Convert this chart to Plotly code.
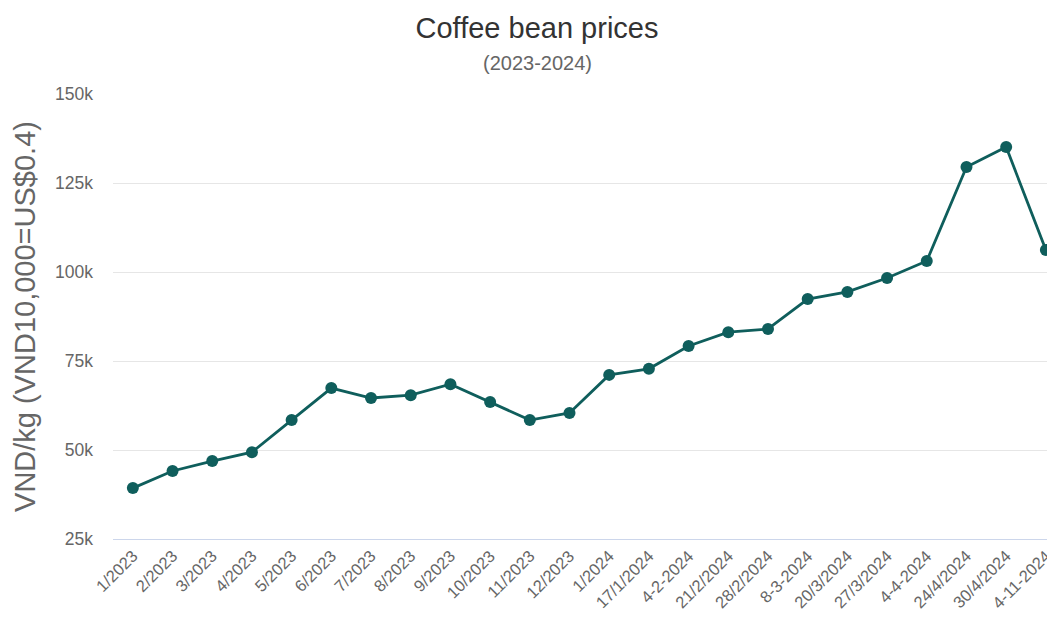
import plotly.graph_objects as go

categories = ["1/2023", "2/2023", "3/2023", "4/2023", "5/2023", "6/2023", "7/2023", "8/2023",
              "9/2023", "10/2023", "11/2023", "12/2023", "1/2024", "17/1/2024", "4-2-2024",
              "21/2/2024", "28/2/2024", "8-3-2024", "20/3/2024", "27/3/2024", "4-4-2024",
              "24/4/2024", "30/4/2024", "4-11-2024"]
prices = [39300, 44100, 46900, 49400, 58400, 67400, 64600, 65400, 68500, 63500, 58400, 60400,
          71100, 72800, 79200, 83100, 84000, 92400, 94400, 98300, 103100, 129500, 135100, 106200]
y_ticks = [25000, 50000, 75000, 100000, 125000, 150000]
y_tick_labels = ["25k", "50k", "75k", "100k", "125k", "150k"]

FONT = "Liberation Sans, Arial, sans-serif"
W, H = 1047, 611
ML, MT, MB, MR = 105, 86, 80, 0
PH = H - MT - MB
CX = (537 - 8) / W

fig = go.Figure(go.Scatter(
    x=list(range(len(categories))), y=prices, mode="lines+markers",
    line=dict(color="#0f5e5c", width=2.8),
    marker=dict(color="#0f5e5c", size=12),
    cliponaxis=False,
))

fig.update_layout(
    width=W, height=H,
    margin=dict(l=ML, r=MR, t=MT, b=MB),
    paper_bgcolor="white", plot_bgcolor="white",
    font=dict(family=FONT, color="#666666"),
    showlegend=False,
    title=dict(
        text="Coffee bean prices",
        x=CX, xref="container", xanchor="center",
        yref="container", y=1 - 20 / H, yanchor="middle",
        font=dict(size=29, color="#333333", family=FONT),
    ),
    annotations=[dict(
        text="(2023-2024)", xref="paper", yref="paper", x=(537 - 8 - ML) / (W - ML - MR),
        y=1 + (MT - 55) / PH, xanchor="center", yanchor="middle", showarrow=False,
        font=dict(size=20, color="#666666", family=FONT),
    )],
    xaxis=dict(
        range=[-0.5, 23.23], tickmode="array", tickvals=list(range(len(categories))),
        ticktext=categories, tickangle=-45, showgrid=False, zeroline=False,
        showline=True, linecolor="#ccd6eb", linewidth=1, ticks="",
        tickfont=dict(size=16.5, color="#666666"),
    ),
    yaxis=dict(
        range=[25000, 150000], tickmode="array", tickvals=y_ticks, ticktext=y_tick_labels,
        showgrid=True, gridcolor="#e6e6e6", gridwidth=1, zeroline=False, showline=False,
        tickfont=dict(size=17.5, color="#666666"), ticks="", ticklabelstandoff=19,
        title=dict(text="VND/kg (VND10,000=US$0.4)", font=dict(size=29, color="#666666"), standoff=10),
    ),
)

fig.write_html("out.html")
